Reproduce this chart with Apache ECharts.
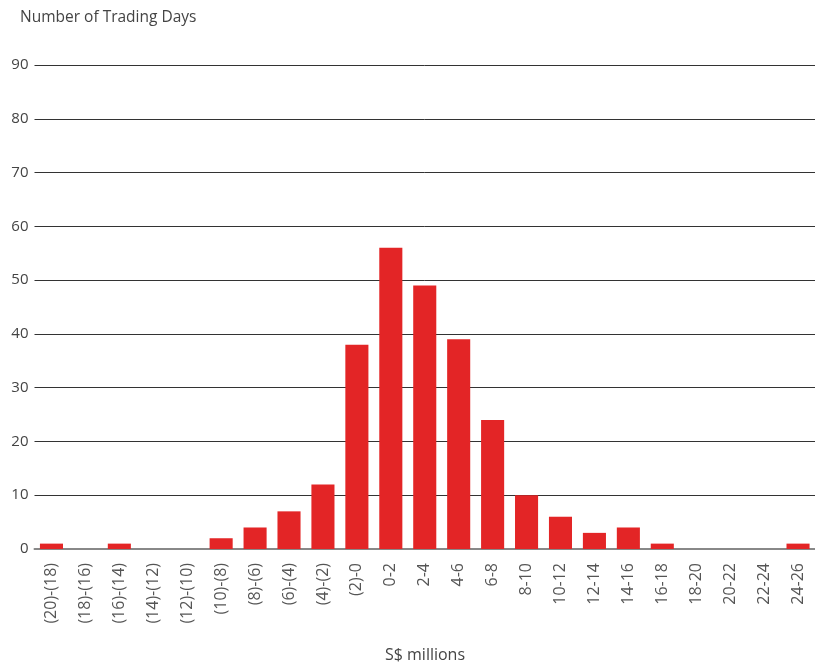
<!DOCTYPE html>
<html><head><meta charset="utf-8">
<script src="https://cdn.jsdelivr.net/npm/echarts@6/dist/echarts.min.js"></script>
<style>html,body{margin:0;padding:0;background:#fff}#c{width:815px;height:662px}</style>
</head><body><div id="c"></div>
<script>
const categories = ["(20)-(18)","(18)-(16)","(16)-(14)","(14)-(12)","(12)-(10)","(10)-(8)","(8)-(6)","(6)-(4)","(4)-(2)","(2)-0","0-2","2-4","4-6","6-8","8-10","10-12","12-14","14-16","16-18","18-20","20-22","22-24","24-26"];
const tradingDays = [1,0,1,0,0,2,4,7,12,38,56,49,39,24,10,6,3,4,1,0,0,0,1];
const yTitle = "Number of Trading Days";
const xTitle = "S$ millions";
const FONT = '"Open Sans", Lato, sans-serif';

const chart = echarts.init(document.getElementById('c'));
chart.setOption({
  animation: false,
  textStyle: {fontFamily: FONT},
  graphic: [
    {type:'text', x: 20, y: 10, style:{text: yTitle, fontSize: 15.5, fill:'#444', fontFamily: FONT}},
    {type:'text', x: 425, y: 647, style:{text: xTitle, fontSize: 16, fill:'#444', fontFamily: FONT, textAlign:'center'}}
  ],
  grid: {left: 34.5, top: 65, width: 782, height: 484, containLabel: false},
  xAxis: {
    type: 'category', data: categories,
    axisLine: {show: true, lineStyle:{color:'#888', width: 2}},
    axisTick: {show: false},
    axisLabel: {rotate: 90, fontSize: 16, color:'#555', margin: 14, interval: 0}
  },
  yAxis: {
    type: 'value', min: 0, max: 90, interval: 10,
    axisLine: {show:false}, axisTick:{show:false},
    axisLabel: {fontSize: 15, color:'#444', margin: 6},
    splitLine: {lineStyle:{color:'#333', width:1}}
  },
  series: [{
    type: 'bar', data: tradingDays, barWidth: '68%',
    itemStyle: {color: '#e32526'}
  }]
});
</script></body></html>
